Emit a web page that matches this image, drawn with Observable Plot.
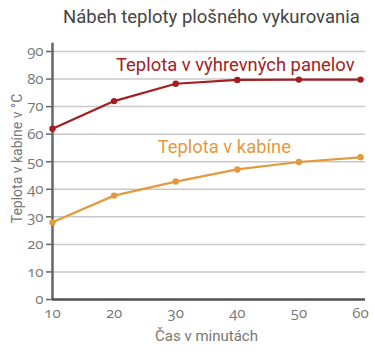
<!DOCTYPE html>
<html><head><meta charset="utf-8">
<script src="https://cdn.jsdelivr.net/npm/d3@7"></script>
<script src="https://cdn.jsdelivr.net/npm/@observablehq/plot@0.6"></script>
<style>
body{margin:0;background:#fff;}
#title{height:34px;line-height:34px;font-family:Roboto,sans-serif;font-size:18.5px;color:#444;padding-left:63px;box-sizing:border-box;}
.onum text{font-variant-numeric:oldstyle-nums !important;font-feature-settings:"onum" 1 !important;}
</style></head><body>
<div id="title">Nábeh teploty plošného vykurovania</div>
<div id="chart"></div>
<script>
const minutes = [10, 20, 30, 40, 50, 60];
const panelTemp = [62, 72, 78.3, 79.7, 79.8, 79.8];
const cabinTemp = [28, 37.7, 42.8, 47.2, 49.9, 51.6];
const yTicks = [0, 10, 20, 30, 40, 50, 60, 70, 80, 90];
const panelName = "Teplota v výhrevných panelov";
const cabinName = "Teplota v kabíne";
const red = "#a51d22", orange = "#e39a3c";

const panel = minutes.map((m, i) => ({m, t: panelTemp[i]}));
const cabin = minutes.map((m, i) => ({m, t: cabinTemp[i]}));

const chart = Plot.plot({
  width: 375, height: 325,
  marginTop: 17, marginBottom: 60, marginLeft: 52, marginRight: 15,
  style: {fontFamily: "'Open Sans', sans-serif", fontSize: "14px", color: "#777"},
  x: {domain: [10, 60], ticks: minutes, label: null, tickSize: 0, tickPadding: 10},
  y: {domain: [0, 90], ticks: yTicks, label: null, tickSize: 6, tickPadding: 2},
  marks: [
    Plot.ruleY(yTicks, {x1: 10, x2: 60.8, stroke: "#c8c8c8", strokeWidth: 1.5}),
    Plot.axisX({ticks: minutes, tickSize: 0, tickPadding: 8, label: null, fill: "#777", fontSize: 15, className: "onum"}),
    Plot.axisY({ticks: yTicks, tickSize: 6, tickPadding: 3, label: null, stroke: "#666", fill: "#777", strokeWidth: 1.5, fontSize: 15, className: "onum"}),
    Plot.ruleX([10], {y1: 0, y2: 93, stroke: "#666", strokeWidth: 2.5}),
    Plot.ruleY([0], {x1: 10, x2: 60.8, stroke: "#555", strokeWidth: 2.5}),
    Plot.line(panel, {x: "m", y: "t", stroke: red, strokeWidth: 2.2}),
    Plot.dot(panel, {x: "m", y: "t", fill: red, r: 3.2}),
    Plot.line(cabin, {x: "m", y: "t", stroke: orange, strokeWidth: 2.2}),
    Plot.dot(cabin, {x: "m", y: "t", fill: orange, r: 3.2}),
    Plot.text([panel[3]], {x: "m", y: "t", text: () => panelName, dx: -2, dy: -15, fill: red, fontSize: 18.4, fontFamily: "Roboto, sans-serif"}),
    Plot.text([cabin[3]], {x: "m", y: "t", text: () => cabinName, dx: -13, dy: -22, fill: orange, fontSize: 18.4, fontFamily: "Roboto, sans-serif"}),
    Plot.text(["Čas v minutách"], {frameAnchor: "bottom", dy: 41, text: d => d, fill: "#777", fontSize: 15, fontFamily: "Roboto, sans-serif"}),
    Plot.text(["Teplota v kabíne v °C"], {frameAnchor: "left", textAnchor: "middle", dx: -35, dy: -17, rotate: -90, text: d => d, fill: "#777", fontSize: 14, fontFamily: "Roboto, sans-serif"})
  ]
});
document.getElementById("chart").appendChild(chart);
</script>
</body></html>
